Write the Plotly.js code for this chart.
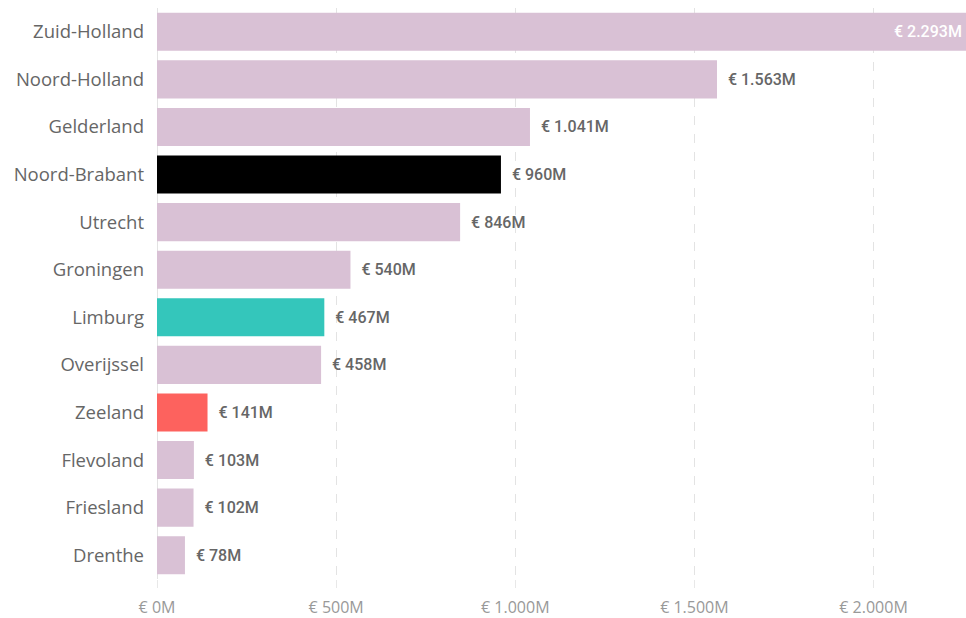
<!DOCTYPE html>
<html><head><meta charset="utf-8">
<script src="https://cdn.plot.ly/plotly-3.0.1.min.js"></script>
<style>html,body{margin:0;padding:0;background:#fff;}#chart{width:966px;height:618px;}</style>
</head><body><div id="chart"></div>
<script>
const provinces = ["Zuid-Holland","Noord-Holland","Gelderland","Noord-Brabant","Utrecht","Groningen","Limburg","Overijssel","Zeeland","Flevoland","Friesland","Drenthe"];
const valuesM = [2293,1563,1041,960,846,540,467,458,141,103,102,78];
const barColors = ["#D9C1D5","#D9C1D5","#D9C1D5","#000000","#D9C1D5","#D9C1D5","#34C6BB","#D9C1D5","#FD625E","#D9C1D5","#D9C1D5","#D9C1D5"];
const tickVals = [0,500,1000,1500,2000];
const tickText = ["€ 0M","€ 500M","€ 1.000M","€ 1.500M","€ 2.000M"];
const xMax = 2258;

function fmt(v){ return "€ " + v.toLocaleString("de-DE") + "M"; }
// bars that run past the axis end get their label inside, at the plot edge
const overflow = valuesM.map(v => v > xMax);
const labels = valuesM.map((v,i)=> overflow[i] ? "" : "  " + fmt(v));
const annotations = provinces.filter((p,i)=>overflow[i]).map((p)=>{
  const i = provinces.indexOf(p);
  return {xref: "paper", x: 1, yref: "y", y: p, xanchor: "right", yanchor: "middle",
    text: fmt(valuesM[i]), showarrow: false, xshift: -2,
    font: {family: "Roboto, sans-serif", size: 16, color: "#ffffff", weight: 500}};
});

Plotly.newPlot("chart", [{
  type: "bar",
  orientation: "h",
  y: provinces,
  x: valuesM,
  marker: {color: barColors},
  text: labels,
  textposition: "outside",
  textfont: {family: "Roboto, sans-serif", size: 16, color: "#666666", weight: 500},
  constraintext: "none",
  cliponaxis: false,
  hoverinfo: "none"
}], {
  width: 966, height: 618,
  margin: {l: 157, r: 0, t: 8, b: 39},
  paper_bgcolor: "#ffffff", plot_bgcolor: "#ffffff",
  bargap: 0.2,
  showlegend: false,
  annotations: annotations,
  xaxis: {
    range: [0, xMax],
    tickvals: tickVals, ticktext: tickText,
    showgrid: true, gridcolor: "#e3e3e3", griddash: "dash", gridwidth: 1,
    zeroline: true, zerolinecolor: "#e3e3e3", zerolinewidth: 1,
    tickfont: {family: "'Open Sans', sans-serif", size: 16, color: "#999999"},
    ticks: "outside", ticklen: 8, tickcolor: "#e8e8e8", tickwidth: 1,
    ticklabelstandoff: 6,
    showline: false, fixedrange: true
  },
  yaxis: {
    autorange: "reversed",
    tickfont: {family: "'Open Sans', sans-serif", size: 18.5, color: "#666666"},
    ticklabelstandoff: 12,
    showgrid: false, zeroline: false, showline: false, ticks: "", fixedrange: true
  }
}, {displayModeBar: false, staticPlot: true});
</script>
</body></html>
